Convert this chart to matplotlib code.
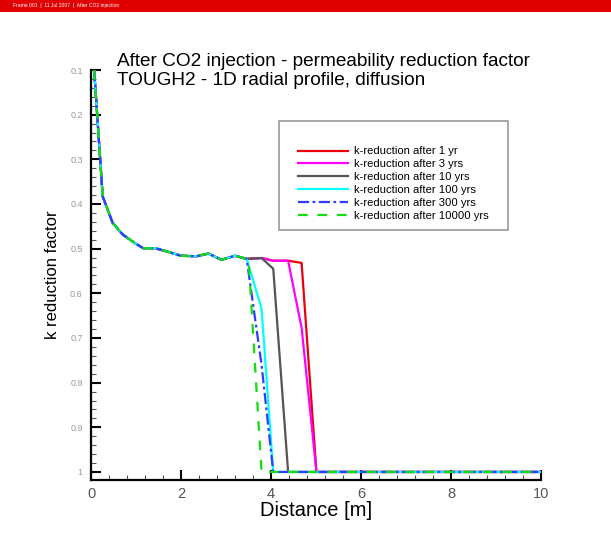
import matplotlib
matplotlib.use("Agg")
import matplotlib.pyplot as plt
from matplotlib.patches import Rectangle
from matplotlib.ticker import MultipleLocator, FixedLocator

plt.rcParams['font.family'] = ['Liberation Sans', 'DejaVu Sans']
plt.rcParams['lines.scale_dashes'] = False

# ---- data ----
d_common = [0.07, 0.26, 0.48, 0.70, 0.98, 1.16, 1.42, 1.68, 2.00, 2.35, 2.61, 2.90, 3.20, 3.46]
k_common = [0.10, 0.383, 0.442, 0.468, 0.488, 0.499, 0.499, 0.506, 0.516, 0.517, 0.511, 0.525, 0.516, 0.523]

tail_d_1yr = [3.79, 4.05, 4.38, 4.68, 5.01, 10.0]
tail_k_1yr = [0.521, 0.527, 0.527, 0.532, 1.0, 1.0]
tail_d_3yr = [3.79, 4.05, 4.38, 4.68, 5.01, 10.0]
tail_k_3yr = [0.521, 0.527, 0.527, 0.677, 1.0, 1.0]
tail_d_10yr = [3.79, 4.05, 4.38, 10.0]
tail_k_10yr = [0.521, 0.545, 1.0, 1.0]
tail_d_100yr = [3.79, 4.05, 10.0]
tail_k_100yr = [0.634, 1.0, 1.0]
tail_d_300yr = [3.79, 4.05, 10.0]
tail_k_300yr = [0.76, 1.0, 1.0]
tail_d_10000yr = [3.50, 3.79, 10.0]
tail_k_10000yr = [0.523, 1.0, 1.0]

labels = ["k-reduction after 1 yr", "k-reduction after 3 yrs", "k-reduction after 10 yrs",
          "k-reduction after 100 yrs", "k-reduction after 300 yrs", "k-reduction after 10000 yrs"]
colors = ["#e8000b", "#ff00ff", "#555555", "#00ffff", "#2f3cff", "#11dd11"]
tails_d = [tail_d_1yr, tail_d_3yr, tail_d_10yr, tail_d_100yr, tail_d_300yr, tail_d_10000yr]
tails_k = [tail_k_1yr, tail_k_3yr, tail_k_10yr, tail_k_100yr, tail_k_300yr, tail_k_10000yr]
dashes = [None, None, None, None, (8, 2.5, 2, 2.5), (7, 7)]

xticks = [0, 2, 4, 6, 8, 10]
yticks = [0.1, 0.2, 0.3, 0.4, 0.5, 0.6, 0.7, 0.8, 0.9, 1.0]
ytick_labels = ["0.1", "0.2", "0.3", "0.4", "0.5", "0.6", "0.7", "0.8", "0.9", "1"]

W, H = 611, 536
fig = plt.figure(figsize=(W / 100, H / 100), dpi=100)
fig.patch.set_facecolor("white")

# header bar
fig.patches.append(Rectangle((0, 1 - 12 / H), 1, 12 / H, transform=fig.transFigure,
                             facecolor="#e00000", edgecolor="none", zorder=0))
fig.text(13 / W, 1 - 6 / H, "Frame 001  |  11 Jul 2007  |  After CO2 injection",
         color="white", fontsize=3.6, va="center", ha="left")

ax = fig.add_axes([91 / W, 1 - 480 / H, 450 / W, 410 / H])
handles = []
for i in range(6):
    xs = d_common + tails_d[i]
    ys = k_common + tails_k[i]
    ln, = ax.plot(xs, ys, color=colors[i], lw=1.6, label=labels[i], zorder=3 + i)
    if dashes[i] is not None:
        ln.set_dashes(dashes[i])
    handles.append(ln)

ax.set_xlim(0, 10)
ax.set_ylim(1.018, 0.1)
for s in ["top", "right"]:
    ax.spines[s].set_visible(False)
for s in ["left", "bottom"]:
    ax.spines[s].set_linewidth(1.6)
    ax.spines[s].set_color("black")

ax.xaxis.set_major_locator(FixedLocator(xticks))
ax.xaxis.set_minor_locator(MultipleLocator(0.4))
ax.yaxis.set_major_locator(FixedLocator(yticks))
ax.set_yticklabels(ytick_labels)
ax.yaxis.set_minor_locator(MultipleLocator(0.02))
ax.tick_params(which="major", direction="in", length=7, width=1.5, color="black")
ax.tick_params(which="minor", direction="in", length=3.5, width=0.8, color="#555555")
ax.tick_params(axis="x", which="major", labelsize=10.5, labelcolor="#555555", pad=5)
ax.tick_params(axis="y", which="major", labelsize=6.5, labelcolor="#999999", pad=6)

ax.set_xlabel("Distance [m]", fontsize=14.5, labelpad=0)
ax.set_ylabel("k reduction factor", fontsize=12, labelpad=7)

fig.text(117 / W, 1 - 65.5 / H, "After CO2 injection - permeability reduction factor",
         fontsize=13.7, ha="left", va="baseline")
fig.text(117 / W, 1 - 85 / H, "TOUGH2 - 1D radial profile, diffusion",
         fontsize=13.7, ha="left", va="baseline")

# legend box
fig.patches.append(Rectangle((279 / W, 1 - 230 / H), (508 - 279) / W, (230 - 121) / H,
                             transform=fig.transFigure, facecolor="white",
                             edgecolor="#999999", lw=1.2, zorder=20))
leg = fig.legend(handles=handles, labels=labels, loc="upper left",
                 bbox_to_anchor=(298 / W, 1 - 146.5 / H), frameon=False,
                 fontsize=8.1, handlelength=4.4, handletextpad=0.55,
                 labelspacing=0.25, borderpad=0, borderaxespad=0)
leg.set_zorder(21)

fig.savefig("out.png", dpi=100)
